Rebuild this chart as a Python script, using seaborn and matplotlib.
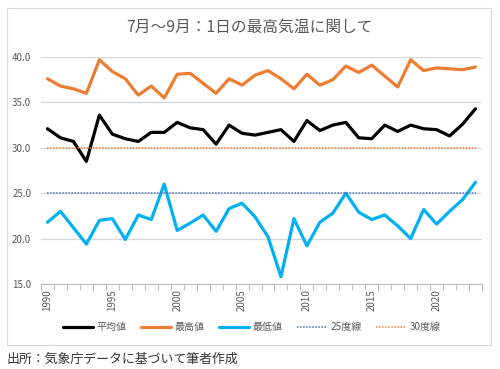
import numpy as np
import pandas as pd
import seaborn as sns
import matplotlib.pyplot as plt
from matplotlib.patches import Rectangle

# Values (July-September daily max temperature)
years = list(range(1990, 2024))
mean_vals = [32.1, 31.1, 30.7, 28.5, 33.6, 31.5, 31.0, 30.7, 31.7, 31.7,
             32.8, 32.2, 32.0, 30.4, 32.5, 31.6, 31.4, 31.7, 32.0, 30.7,
             33.0, 31.9, 32.5, 32.8, 31.1, 31.0, 32.5, 31.8, 32.5, 32.1,
             32.0, 31.3, 32.6, 34.3]
max_vals = [37.6, 36.8, 36.5, 36.0, 39.7, 38.4, 37.6, 35.8, 36.8, 35.5,
            38.1, 38.2, 37.1, 36.0, 37.6, 36.9, 38.0, 38.5, 37.6, 36.5,
            38.1, 36.9, 37.5, 39.0, 38.3, 39.1, 37.9, 36.7, 39.7, 38.5,
            38.8, 38.7, 38.6, 38.9]
min_vals = [21.8, 23.0, 21.2, 19.4, 22.0, 22.2, 19.9, 22.6, 22.1, 26.0,
            20.9, 21.7, 22.6, 20.8, 23.3, 23.9, 22.4, 20.2, 15.8, 22.2,
            19.2, 21.8, 22.8, 25.0, 22.9, 22.1, 22.6, 21.4, 20.0, 23.2,
            21.6, 23.0, 24.3, 26.2]
line25 = [25.0] * len(years)
line30 = [30.0] * len(years)

series_names = ['平均値', '最高値', '最低値', '25度線', '30度線']
colors = ['#000000', '#ED7D31', '#00B0F0', '#4472C4', '#ED7D31']

df = pd.DataFrame({'year': years, '平均値': mean_vals, '最高値': max_vals,
                   '最低値': min_vals, '25度線': line25, '30度線': line30})
long_df = df.melt(id_vars='year', var_name='series', value_name='temp')

sns.set_style('white')
plt.rcParams['font.family'] = ['Noto Sans CJK JP', 'DejaVu Sans']

fig = plt.figure(figsize=(5, 3.69), dpi=100)
ax = fig.add_axes([41 / 500, 85 / 369, 441 / 500, 227 / 369])

# chart frame
fig.patches.append(Rectangle((7 / 500, 1 - 345 / 369), 484 / 500, 337 / 369,
                             transform=fig.transFigure, fill=False,
                             edgecolor='#D9D9D9', linewidth=0.8))

sns.lineplot(data=long_df, x='year', y='temp', hue='series',
             hue_order=series_names, palette=colors, style='series',
             style_order=series_names,
             dashes={'平均値': '', '最高値': '', '最低値': '',
                     '25度線': (1, 1), '30度線': (1, 1)},
             ax=ax, legend=False)
for line, name in zip(ax.get_lines(), series_names):
    line.set_linewidth(2.3 if '線' not in name else 1.1)

ax.set_xlim(1989.5, 2023.5)
ax.set_ylim(15, 40)
ax.set_yticks(np.arange(15, 41, 5))
ax.set_yticklabels([f'{v:.1f}' for v in np.arange(15, 41, 5)])
ax.set_xticks(range(1990, 2024, 5))
ax.set_xticklabels([str(y) for y in range(1990, 2024, 5)], rotation=90)
ax.set_xticks(np.arange(1989.5, 2024, 1), minor=True)
ax.tick_params(axis='both', which='major', length=0, labelsize=7,
               labelcolor='#595959')
ax.tick_params(axis='y', pad=7)
ax.tick_params(axis='x', pad=4)
ax.tick_params(axis='x', which='minor', length=4, color='#BFBFBF',
               width=0.8, direction='out', bottom=True)
ax.grid(axis='y', color='#D9D9D9', linewidth=1)
ax.set_axisbelow(True)
for s in ['top', 'right', 'left']:
    ax.spines[s].set_visible(False)
ax.spines['bottom'].set_color('#BFBFBF')
ax.spines['bottom'].set_linewidth(0.8)
ax.set_xlabel('')
ax.set_ylabel('')

fig.text(0.5, 1 - 27 / 369, '7月～9月：1日の最高気温に関して',
         ha='center', va='center', fontsize=11.3, color='#595959')

handles = [plt.Line2D([], [], color=c, linewidth=2.3 if '線' not in n else 1.1,
                      linestyle='-' if '線' not in n else (0, (1, 1)))
           for n, c in zip(series_names, colors)]
fig.legend(handles, series_names, loc='center', ncol=5,
           bbox_to_anchor=(252 / 500, 1 - 327 / 369), frameon=False,
           fontsize=7.2, labelcolor='#595959', handlelength=3.0,
           handletextpad=0.4, columnspacing=1.4)

fig.text(7 / 500, 1 - 359 / 369, '出所：気象庁データに基づいて筆者作成',
         ha='left', va='center', fontsize=9.3, color='#333333')

fig.savefig('out.png', dpi=100)
